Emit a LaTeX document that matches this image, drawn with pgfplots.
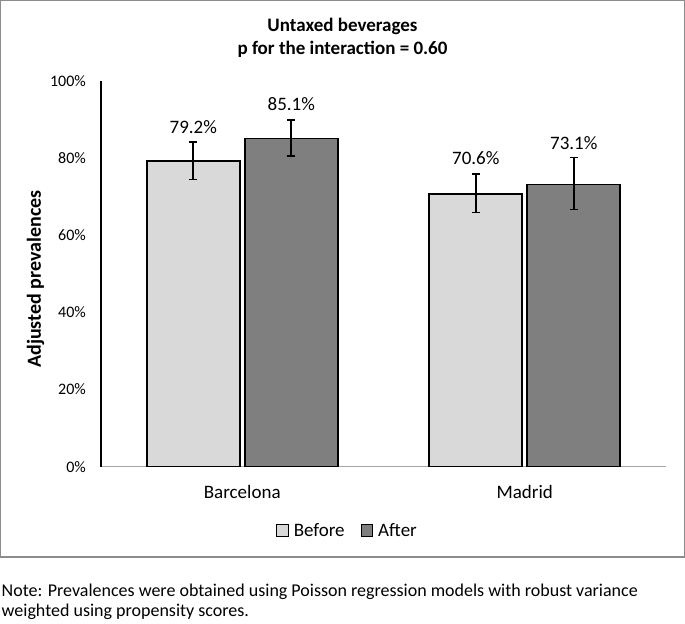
\documentclass[border=0pt]{standalone}
\usepackage{fontspec}
\setmainfont{Carlito}
\usepackage{pgfplots}
\pgfplotsset{compat=1.18}

\definecolor{before}{HTML}{D9D9D9}
\definecolor{after}{HTML}{7F7F7F}
\definecolor{frame}{HTML}{8C8C8C}

\newcommand{\fs}[1]{\fontsize{#1bp}{1.2\dimexpr#1bp\relax}\selectfont}

\pgfplotsset{
    errs/.style={
        error bars/.cd, y dir=both, y explicit,
        error bar style={line width=1.6bp, black},
        error mark options={rotate=90, mark size=3.8bp, line width=1.6bp, black},
    },
}

\begin{document}
\begin{tikzpicture}
    \path[use as bounding box] (0bp,0bp) rectangle (685bp,624bp);
    \draw[frame, line width=1.4bp] (0.7bp,67bp) rectangle (684.3bp,623.3bp);

    % title
    \node[anchor=base, inner sep=0pt, font=\bfseries\fs{19}] at (342.5bp,592bp) {Untaxed beverages};
    \node[anchor=base, inner sep=0pt, font=\bfseries\fs{19}] at (342.5bp,569bp) {p for the interaction = 0.60};

    \begin{axis}[
        at={(101bp,157.2bp)}, anchor=south west,
        scale only axis, width=565bp, height=386bp,
        xmin=-0.5, xmax=1.5, ymin=0, ymax=100,
        ybar=5bp, bar width=93bp,
        axis x line=bottom, axis y line=left,
        axis line style={-},
        x axis line style={draw=gray!70, line width=1.4bp},
        y axis line style={draw=black, line width=1.2bp},
        major tick length=0pt,
        xtick={0,1}, xticklabels={Barcelona,Madrid},
        ytick={0,20,40,60,80,100},
        yticklabels={0\%,20\%,40\%,60\%,80\%,100\%},
        /pgf/number format/assume math mode=true,
        xticklabel style={anchor=base, yshift=-31.5bp, font=\fs{19}},
        yticklabel style={anchor=east, inner sep=0pt, xshift=-15bp, font=\fs{16}},
        ylabel={Adjusted prevalences},
        every axis y label/.style={at={(axis description cs:-0.1062,0.486)},
            anchor=base, rotate=90, inner sep=0pt, font=\bfseries\fs{20}},
        legend style={at={(axis description cs:0.4345,-0.1655)}, anchor=center,
            draw=none, fill=none, legend columns=2, font=\fs{19},
            inner sep=0pt, nodes={inner sep=0pt},
            /tikz/every odd column/.style={column sep=5bp},
            /tikz/every even column/.style={column sep=16bp}},
    ]
        \addplot[fill=before, draw=black, line width=1.6bp, bar shift=-49bp,
            legend image code/.code={\draw[fill=before, draw=black, line width=1.1bp] (0bp,-5.5bp) rectangle (11.5bp,6bp);},
            errs]
            coordinates {
                (0,79.2) += (0,4.87) -= (0,4.72)
                (1,70.6) += (0,5.18) -= (0,4.77)
            };
        \addlegendentry{Before}
        \addplot[fill=after, draw=black, line width=1.6bp, bar shift=49bp,
            legend image code/.code={\draw[fill=after, draw=black, line width=1.1bp] (0bp,-5.5bp) rectangle (11.5bp,6bp);},
            errs]
            coordinates {
                (0,85.1) += (0,4.74) -= (0,4.58)
                (1,73.1) += (0,6.98) -= (0,6.49)
            };
        \addlegendentry{After}

        % value labels, set at the height of their baselines
        \addplot[draw=none, fill=none, bar shift=-49bp, forget plot,
            nodes near coords, point meta=explicit symbolic,
            every node near coord/.append style={anchor=base, font=\fs{19}, black}]
            coordinates {(0,86.4) [79.2\%] (1,78.4) [70.6\%]};
        \addplot[draw=none, fill=none, bar shift=49bp, forget plot,
            nodes near coords, point meta=explicit symbolic,
            every node near coord/.append style={anchor=base, font=\fs{19}, black}]
            coordinates {(0,92.25) [85.1\%] (1,82.1) [73.1\%]};
    \end{axis}

    % note below the frame
    \node[anchor=base west, inner sep=0pt, font=\fs{18}] at (1.5bp,28bp)
        {Note: Prevalences were obtained using Poisson regression models with robust variance};
    \node[anchor=base west, inner sep=0pt, font=\fs{18}] at (1.5bp,7.3bp)
        {weighted using propensity scores.};
\end{tikzpicture}
\end{document}
